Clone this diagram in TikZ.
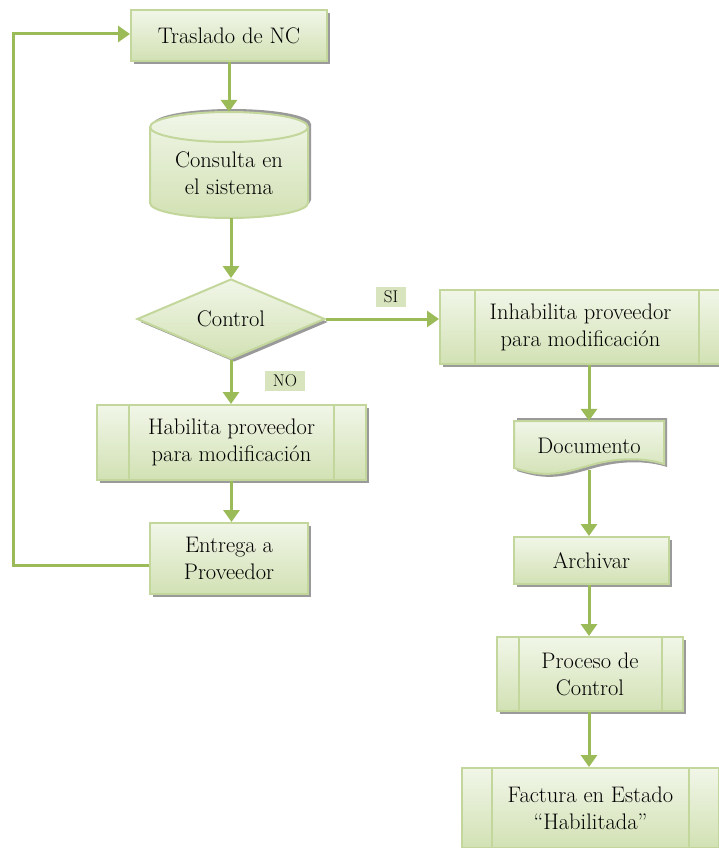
\documentclass[tikz,border=0pt]{standalone}
\usepackage{fontspec}
\usetikzlibrary{shapes.geometric,shadows,arrows.meta,calc}
\definecolor{bord}{HTML}{C3D69B}
\definecolor{arr}{HTML}{9BBB59}
\definecolor{topc}{HTML}{F1F6E8}
\definecolor{botc}{HTML}{D2E1B4}
\definecolor{shad}{HTML}{9A9A9A}
\definecolor{lab}{HTML}{D7E4BD}
\begin{document}
\begin{tikzpicture}[x=1pt,y=-1pt,
  base/.style={draw=bord, line width=2pt, top color=topc, bottom color=botc,
    font=\fontsize{22.5}{27}\selectfont, align=center, inner sep=0pt},
  box/.style={base, rectangle, general shadow={fill=shad, shadow xshift=3pt, shadow yshift=-3pt}},
  txt/.style={font=\fontsize{22.5}{27}\selectfont, align=center, inner sep=0pt},
  ghost/.style={inner sep=0pt, draw=none, fill=none},
  inner/.style={draw=bord, line width=2pt},
  conn/.style={draw=arr, line width=3pt, -{Triangle[length=12pt,width=16pt]}},
  lbl/.style={fill=lab, font=\fontsize{17}{18}\selectfont, inner xsep=8pt, inner ysep=4pt}]
\useasboundingbox (0,0) rectangle (719,848);

% cylinder (drawn directly)
\fill[shad] (153,124) -- (153,200) arc[start angle=180,end angle=0,x radius=79,y radius=15]
  -- (311,124) arc[start angle=0,end angle=-180,x radius=79,y radius=15] -- cycle;
\path[draw=bord, line width=2pt, top color=topc, bottom color=botc]
  (150,127) -- (150,203) arc[start angle=180,end angle=0,x radius=79,y radius=15]
  -- (308,127) arc[start angle=0,end angle=-180,x radius=79,y radius=15] -- cycle;
\draw[bord, line width=2pt] (150,127) arc[start angle=180,end angle=0,x radius=79,y radius=15];

% document shape (drawn directly)
\fill[shad] (517,418) -- (517,471) .. controls (548,481) and (563,477) .. (594,468)
  .. controls (623,460) and (648,461) .. (667,467) -- (667,418) -- cycle;
\path[draw=bord, line width=2pt, top color=topc, bottom color=botc]
  (514,421) -- (514,468) .. controls (545,478) and (560,474) .. (591,465)
  .. controls (620,457) and (645,458) .. (664,464) -- (664,421) -- cycle;

% nodes
\node[box, minimum width=196, minimum height=51] (trasl) at (229,35.5) {Traslado de NC};
\node[ghost, minimum width=158, minimum height=106] (cons) at (229,165) {};
\node[txt] (consT) at (229,173) {Consulta en\\el sistema};
\node[base, diamond, aspect=2.35, minimum width=188, minimum height=80,
  general shadow={fill=shad, shadow xshift=3pt, shadow yshift=-3pt}] (ctrl) at (231,319) {Control};
\node[lbl] (si) at (391,297) {SI};
\node[lbl] (no) at (285,381) {NO};
\node[box, minimum width=281, minimum height=74] (inh) at (580.5,327) {Inhabilita proveedor\\para modificación};
\node[box, minimum width=269, minimum height=75] (hab) at (231.5,442.5) {Habilita proveedor\\para modificación};
\node[box, minimum width=158, minimum height=71] (ent) at (229,558.5) {Entrega a\\Proveedor};
\node[ghost, txt, minimum width=150, minimum height=49] (doc) at (589,445.5) {Documento};
\node[box, minimum width=155, minimum height=47] (arch) at (591.5,560.5) {Archivar};
\node[box, minimum width=186, minimum height=74] (proc) at (590,674) {Proceso de\\Control};
\node[box, minimum width=257, minimum height=80] (fact) at (590.5,808) {Factura en Estado\\“Habilitada”};

% inner lines of predefined-process boxes
\draw[inner] ([xshift=36pt]inh.north west) -- ([xshift=36pt]inh.south west);
\draw[inner] ([xshift=-23pt]inh.north east) -- ([xshift=-23pt]inh.south east);
\draw[inner] ([xshift=33pt]hab.north west) -- ([xshift=33pt]hab.south west);
\draw[inner] ([xshift=-33pt]hab.north east) -- ([xshift=-33pt]hab.south east);
\draw[inner] ([xshift=23pt]proc.north west) -- ([xshift=23pt]proc.south west);
\draw[inner] ([xshift=-22pt]proc.north east) -- ([xshift=-22pt]proc.south east);
\draw[inner] ([xshift=31pt]fact.north west) -- ([xshift=31pt]fact.south west);
\draw[inner] ([xshift=-31pt]fact.north east) -- ([xshift=-31pt]fact.south east);

% connectors
\coordinate (loop) at (13,34);
\draw[conn] (trasl.south) -- (cons.north);
\draw[conn] (ctrl.north |- cons.south) -- (ctrl.north);
\draw[conn] (ctrl.east) -- (ctrl.east -| inh.west);
\draw[conn] (ctrl.south) -- (ctrl.south |- hab.north);
\draw[conn] (hab.south) -- (hab.south |- ent.north);
\draw[conn] ([yshift=-6.5pt]ent.west) -| (loop) -- (loop -| trasl.west);
\draw[conn] (doc.north |- inh.south) -- (doc.north);
\draw[conn] (doc.south) -- (doc.south |- arch.north);
\draw[conn] (arch.south -| doc.south) -- (doc.south |- proc.north);
\draw[conn] (proc.south -| doc.south) -- (doc.south |- fact.north);
\end{tikzpicture}
\end{document}
